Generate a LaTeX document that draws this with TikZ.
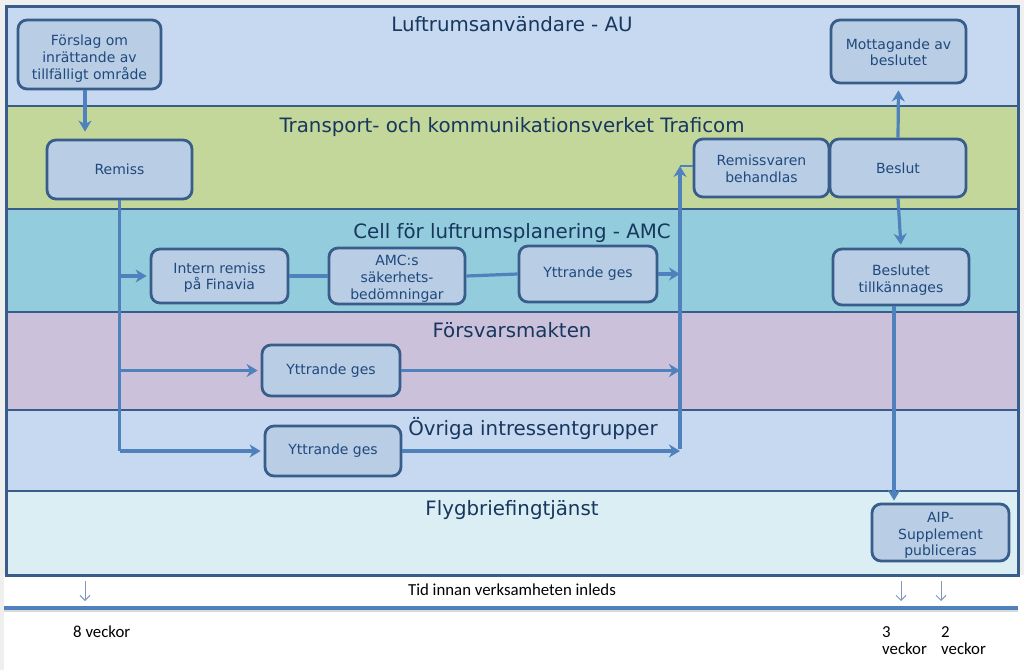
\documentclass[tikz,border=0pt]{standalone}
\usepackage{fontspec}
\setmainfont{DejaVu Sans}
\newfontfamily\calib{Carlito}
\usetikzlibrary{arrows.meta}
\newcommand\tup[1]{\rule{0pt}{#1pt}}
\definecolor{bggray}{HTML}{EFEFEF}
\definecolor{laneau}{HTML}{C6D9F0}
\definecolor{lanetr}{HTML}{C4D79B}
\definecolor{laneamc}{HTML}{93CDDD}
\definecolor{lanefm}{HTML}{CCC1DA}
\definecolor{laneov}{HTML}{C6D9F1}
\definecolor{laneflyg}{HTML}{DAEEF3}
\definecolor{boxfill}{HTML}{B9CDE5}
\definecolor{boxline}{HTML}{385D8A}
\definecolor{boxtext}{HTML}{1F497D}
\definecolor{titletext}{HTML}{17375E}
\definecolor{arrowblue}{HTML}{4F81BD}
\definecolor{thinarrow}{HTML}{8097B8}
\begin{document}
\begin{tikzpicture}[x=1pt,y=-1pt,
  box/.style={draw=boxline, line width=2.8pt, rounded corners=9pt, fill=boxfill,
    text=boxtext, align=center, inner sep=0pt, font=\fontsize{14}{16.7}\selectfont},
  lanetitle/.style={text=titletext, anchor=base, inner sep=0pt, font=\fontsize{19.8}{22}\selectfont},
  conn/.style={draw=arrowblue, line width=3.2pt},
  arr/.style={conn, -{Stealth[length=11pt,width=13pt,inset=3.5pt]}, shorten >=3pt},
  tarr/.style={draw=thinarrow, line width=1pt, -{Straight Barb[length=5pt,width=10pt]}},
  btext/.style={text=black, inner sep=0pt, font=\calib\fontsize{16.8}{17}\selectfont},
  sep/.style={draw=boxline, line width=2.5pt}
]
\useasboundingbox (0,0) rectangle (1024,670);
\fill[bggray] (0,0) rectangle (1024,670);
\fill[white] (4,575) rectangle (1024,670);
% lanes
\fill[laneau] (6,6) rectangle (1018,106);
\fill[lanetr] (6,106) rectangle (1018,209);
\fill[laneamc] (6,209) rectangle (1018,312);
\fill[lanefm] (6,312) rectangle (1018,410);
\fill[laneov] (6,410) rectangle (1018,491);
\fill[laneflyg] (6,491) rectangle (1018,575);
\draw[sep] (6,106) -- (1018,106);
\draw[sep] (6,209) -- (1018,209);
\draw[sep] (6,312) -- (1018,312);
\draw[sep] (6,410) -- (1018,410);
\draw[sep] (6,491) -- (1018,491);
\draw[boxline, line width=3pt] (6,6) rectangle (1018,575);
% lane titles
\node[lanetitle] (tau) at (512,31) {Luftrumsanvändare - AU};
\node[lanetitle] (ttr) at (512,132) {Transport- och kommunikationsverket Traficom};
\node[lanetitle] (tamc) at (512,238) {Cell för luftrumsplanering - AMC};
\node[lanetitle] (tfm) at (512,337) {Försvarsmakten};
\node[lanetitle] (tov) at (533,435) {Övriga intressentgrupper};
\node[lanetitle] (tfl) at (512,515) {Flygbriefingtjänst};
% boxes
\node[box, minimum width=143, minimum height=69] (forslag) at (89.5,54.5) {\tup{19}Förslag om\\inrättande av\\tillfälligt område};
\node[box, minimum width=145, minimum height=59] (remiss) at (119.5,169.5) {Remiss};
\node[box, minimum width=135, minimum height=63] (mottag) at (898.5,51.5) {\tup{12}Mottagande av\\beslutet};
\node[box, minimum width=135, minimum height=58] (remsvar) at (761.5,168) {\tup{12}Remissvaren\\behandlas};
\node[box, minimum width=136, minimum height=58] (beslut) at (898,168) {Beslut};
\node[box, minimum width=137, minimum height=54] (intern) at (219.5,276) {\tup{14}Intern remiss\\på Finavia};
\node[box, minimum width=136, minimum height=56] (amcs) at (397,276) {\tup{16}AMC:s\\säkerhets-\\bedömningar};
\node[box, minimum width=138, minimum height=56] (ytamc) at (588,274) {Yttrande ges};
\node[box, minimum width=136, minimum height=56] (tillk) at (901,277) {\tup{16.5}Beslutet\\tillkännages};
\node[box, minimum width=138, minimum height=51] (ytfm) at (331,370.5) {Yttrande ges};
\node[box, minimum width=136, minimum height=50] (ytov) at (333,451) {Yttrande ges};
\node[box, minimum width=137, minimum height=57] (aip) at (940.5,532.5) {\tup{16}AIP-\\Supplement\\publiceras};
% connectors
\draw[arr, shorten >=7pt] (85,0 |- forslag.south) -- (85,0 |- remiss.north);
\draw[conn] (remiss.south) -- (remiss.south |- ytov.west);
\draw[arr] (remiss.south |- intern.west) -- (intern.west);
\draw[arr] (remiss.south |- ytfm.west) -- (ytfm.west);
\draw[arr] (remiss.south |- ytov.west) -- (ytov.west);
\draw[conn] (intern.east) -- (amcs.west);
\draw[conn] (amcs.east) -- (ytamc.west);
\coordinate (colbot) at (680,449);
\coordinate (coltop) at (680,166);
\draw[arr, shorten >=0pt] (ytamc.east) -- (colbot |- ytamc.east);
\draw[arr, shorten >=0pt] (ytfm.east) -- (colbot |- ytfm.east);
\draw[arr, shorten >=0pt] (ytov.east) -- (colbot |- ytov.east);
\draw[arr, shorten >=0pt] (colbot) -- (coltop);
\draw[draw=arrowblue, line width=1.8pt] (coltop) -- (coltop -| remsvar.west);
\draw[arr, shorten >=6pt] (beslut.north) -- (mottag.south);
\draw[arr] (beslut.south) -- (tillk.north);
\draw[arr, shorten >=2pt] (894,0 |- tillk.south) -- (894,0 |- aip.north);
% time axis
\draw[gray!30, line width=3pt] (4,610.5) -- (1018,610.5);
\draw[arrowblue, line width=3.2pt] (4,608) -- (1018,608);
\coordinate (a8t) at (85,581); \coordinate (a8b) at (85,601);
\coordinate (a3t) at (901,581); \coordinate (a3b) at (901,601);
\coordinate (a2t) at (941,581); \coordinate (a2b) at (941,601);
\draw[tarr] (a8t) -- (a8b);
\draw[tarr] (a3t) -- (a3b);
\draw[tarr] (a2t) -- (a2b);
\node[btext] (tid) at (512,590) {Tid innan verksamheten inleds};
\node[btext, anchor=west] (v8) at (73,632) {8 veckor};
\node[btext, anchor=north west, align=left] (v3) at (882,626) {3\\veckor};
\node[btext, anchor=north west, align=left] (v2) at (941,626) {2\\veckor};
\end{tikzpicture}
\end{document}
